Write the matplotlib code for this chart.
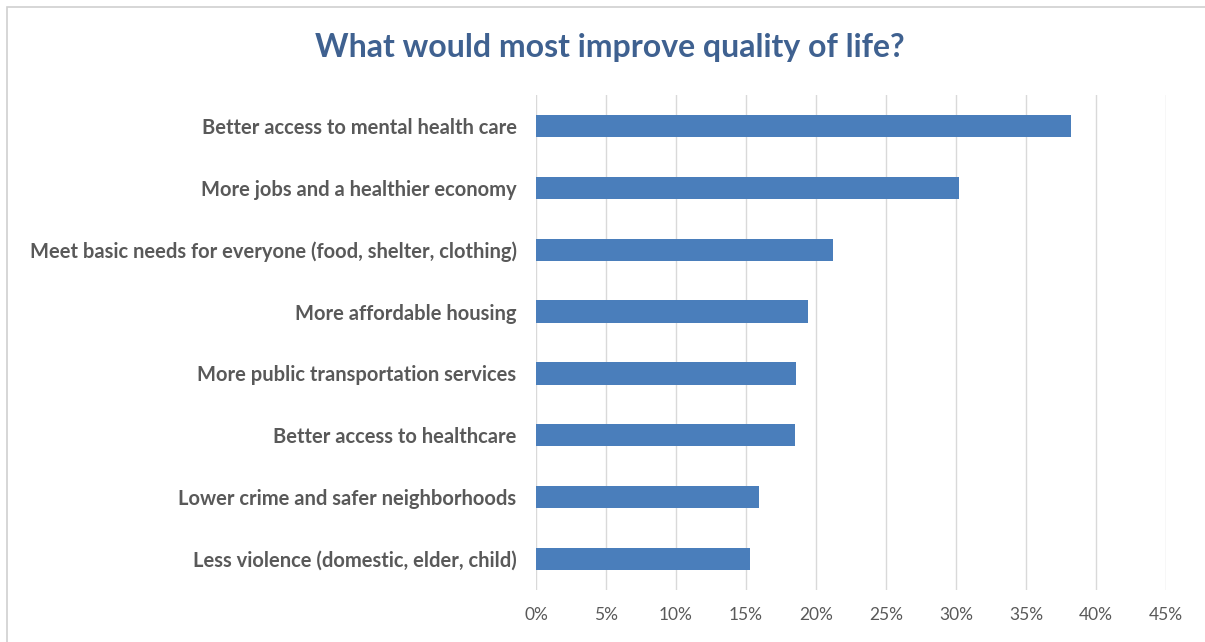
import matplotlib.pyplot as plt
from matplotlib.patches import Rectangle
from matplotlib.ticker import PercentFormatter

# respostas (de cima para baixo)
categorias = [
    "Better access to mental health care",
    "More jobs and a healthier economy",
    "Meet basic needs for everyone (food, shelter, clothing)",
    "More affordable housing",
    "More public transportation services",
    "Better access to healthcare",
    "Lower crime and safer neighborhoods",
    "Less violence (domestic, elder, child)",
]
valores = [0.382, 0.302, 0.212, 0.194, 0.186, 0.185, 0.159, 0.153]
ticks_x = [0, 0.05, 0.10, 0.15, 0.20, 0.25, 0.30, 0.35, 0.40, 0.45]

plt.rcParams['font.family'] = ['Lato', 'DejaVu Sans']

fig = plt.figure(figsize=(12.05, 6.42), dpi=100)
ax = fig.add_axes([536 / 1205, 1 - 590 / 642, 630 / 1205, 495 / 642])

pos = list(range(len(categorias)))[::-1]
ax.barh(pos, valores, height=0.36, color='#4A7EBB', zorder=3)

ax.set_xlim(0, 0.45)
ax.set_ylim(-0.5, len(categorias) - 0.5)
ax.set_xticks(ticks_x)
ax.xaxis.set_major_formatter(PercentFormatter(1.0, decimals=0))
ax.set_yticks(pos)
ax.set_yticklabels(categorias, fontsize=14.5, fontweight='bold', color='#595959')
ax.tick_params(axis='x', labelsize=12.5, labelcolor='#595959', length=0, pad=12)
ax.tick_params(axis='y', length=0, pad=14)

ax.grid(axis='x', color='#D9D9D9', linewidth=1, zorder=0)
for s in ax.spines.values():
    s.set_visible(False)

fig.text(610 / 1205, 1 - 47 / 642, "What would most improve quality of life?",
         ha='center', va='center', fontsize=23, fontweight='bold', color='#3F6190')

# moldura cinza do gráfico
fig.patches.append(Rectangle((7 / 1205, -0.05), 1.1, 1 - 7 / 642 + 0.05,
                             transform=fig.transFigure, fill=False,
                             edgecolor='#D0D0D0', linewidth=1.2))

fig.savefig('out.png', dpi=100)
